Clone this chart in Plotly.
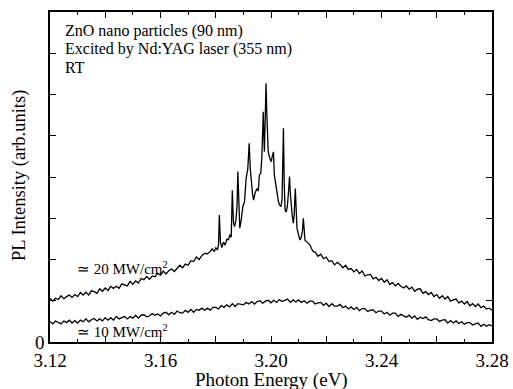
import numpy as np
import plotly.graph_objects as go

# ---------------- data ----------------
# 10 MW/cm^2 spectrum, energies 3.120 ... 3.280 eV, step 1 meV
energy_low = np.round(np.linspace(3.120, 3.280, 161), 4)
pl_low = [
    .50, .44, .51, .47, .44, .51, .47, .53, .46, .52,
    .46, .53, .49, .56, .49, .54, .57, .51, .56, .51,
    .59, .53, .59, .53, .62, .56, .60, .62, .56, .62,
    .58, .65, .58, .65, .66, .61, .63, .69, .65, .68,
    .63, .70, .72, .66, .72, .67, .75, .71, .70, .77,
    .72, .79, .72, .79, .77, .82, .77, .82, .77, .84,
    .84, .80, .88, .84, .90, .85, .93, .86, .93, .91,
    .90, .96, .92, .98, .92, .98, 1.00, .94, .99, 1.01,
    .95, 1.01, .96, 1.03, .98, 1.01, 1.04, .96, 1.02, .97,
    1.02, .96, 1.00, .94, .99, .99, .92, .95, .96, .89,
    .94, .86, .93, .87, .87, .91, .83, .87, .80, .85,
    .79, .84, .76, .81, .81, .74, .77, .78, .71, .75,
    .75, .68, .72, .65, .70, .70, .62, .67, .63, .60,
    .65, .58, .63, .55, .60, .57, .61, .54, .52, .56,
    .56, .50, .53, .54, .46, .52, .46, .51, .45, .49,
    .43, .47, .47, .41, .44, .46, .38, .43, .38, .42,
    .39,
]

# 20 MW/cm^2 spectrum: low-energy wing (3.120 ... 3.177 eV, 1 meV step)
energy_high_left = np.round(np.linspace(3.120, 3.177, 58), 4)
pl_high_left = [
    1.06, 0.99, 1.06, 1.03, 1.12, 1.05, 1.10, 1.14, 1.08, 1.15,
    1.10, 1.20, 1.14, 1.21, 1.14, 1.24, 1.22, 1.18, 1.29, 1.23,
    1.31, 1.25, 1.35, 1.30, 1.35, 1.30, 1.41, 1.38, 1.36, 1.47,
    1.40, 1.48, 1.43, 1.54, 1.51, 1.59, 1.52, 1.60, 1.58, 1.67,
    1.62, 1.72, 1.65, 1.73, 1.77, 1.71, 1.80, 1.86, 1.80, 1.89,
    1.86, 1.97, 1.95, 2.06, 2.00, 2.10, 2.15, 2.14,
]

# 20 MW/cm^2 spectrum: stimulated-emission spikes region
energy_high_mid = [
    3.1780, 3.1787, 3.1795, 3.1800, 3.1806, 3.1810, 3.1813, 3.1817, 3.1822, 3.1828,
    3.1834, 3.1840, 3.1846, 3.1852, 3.1856, 3.1860, 3.1864, 3.1868, 3.1873, 3.1877,
    3.1880, 3.1884, 3.1887, 3.1892, 3.1898, 3.1904, 3.1910, 3.1916, 3.1921, 3.1925,
    3.1928, 3.1933, 3.1937, 3.1942, 3.1949, 3.1954, 3.1958, 3.1963, 3.1967, 3.1969,
    3.1972, 3.1974, 3.1976, 3.1979, 3.1982, 3.1985, 3.1990, 3.1996, 3.2001, 3.2005,
    3.2009, 3.2012, 3.2016, 3.2021, 3.2027, 3.2031, 3.2036, 3.2040, 3.2045, 3.2048,
    3.2051, 3.2055, 3.2059, 3.2063, 3.2067, 3.2070, 3.2073, 3.2077, 3.2081, 3.2084,
    3.2088, 3.2091, 3.2094, 3.2099, 3.2105, 3.2110, 3.2114, 3.2117, 3.2120, 3.2123,
    3.2128, 3.2134, 3.2141, 3.2147, 3.2153,
]
pl_high_mid = [
    2.19, 2.26, 2.19, 2.29, 2.23, 2.35, 3.08, 2.42, 2.29, 2.42,
    2.35, 2.49, 2.48, 2.61, 2.54, 3.68, 2.90, 2.80, 2.95, 3.30,
    4.13, 3.00, 2.76, 2.95, 3.28, 3.40, 3.97, 4.20, 4.82, 4.20,
    3.89, 3.60, 3.44, 3.60, 3.72, 3.66, 4.05, 4.09, 4.50, 5.18,
    5.58, 5.00, 4.61, 5.40, 6.27, 5.50, 4.61, 4.45, 4.37, 4.52,
    4.61, 4.05, 3.85, 3.68, 3.40, 3.32, 3.28, 3.45, 5.18, 3.80,
    3.20, 3.15, 3.28, 3.60, 4.01, 3.60, 3.24, 3.05, 2.88, 3.10,
    3.72, 3.20, 2.76, 2.62, 2.47, 2.55, 2.70, 3.00, 2.60, 2.47,
    2.44, 2.40, 2.35, 2.26, 2.19,
]

# 20 MW/cm^2 spectrum: high-energy wing (3.216 ... 3.280 eV, 1 meV step)
energy_high_right = np.round(np.linspace(3.216, 3.280, 65), 4)
pl_high_right = [
    2.18, 2.08, 2.13, 2.02,
    2.06, 1.95, 1.97, 1.87, 1.93, 1.88, 1.80, 1.86, 1.76, 1.78,
    1.70, 1.76, 1.66, 1.72, 1.60, 1.63, 1.64, 1.53, 1.57, 1.49,
    1.54, 1.45, 1.51, 1.40, 1.44, 1.36, 1.42, 1.35, 1.31, 1.36,
    1.28, 1.33, 1.23, 1.28, 1.29, 1.18, 1.22, 1.15, 1.20, 1.10,
    1.15, 1.06, 1.12, 1.04, 1.10, 0.99, 1.02, 1.04, 0.95, 0.99,
    0.92, 0.98, 0.88, 0.93, 0.86, 0.92, 0.83, 0.87, 0.80, 0.82,
    0.77,
]

energy_high = list(energy_high_left) + energy_high_mid + list(energy_high_right)
pl_high = pl_high_left + pl_high_mid + pl_high_right

x_tick_vals = [3.12, 3.14, 3.16, 3.18, 3.20, 3.22, 3.24, 3.26, 3.28]
x_tick_text = ["3.12", "", "3.16", "", "3.20", "", "3.24", "", "3.28"]
y_tick_vals = [0, 1, 2, 3, 4, 5, 6, 7, 8]
y_tick_text = ["0", "", "", "", "", "", "", "", ""]

x_title = "Photon Energy (eV)"
y_title = "PL Intensity (arb.units)"
info_lines = ["ZnO nano particles (90 nm)", "Excited by Nd:YAG laser (355 nm)", "RT"]
label_high = "\u2243 20 MW/cm<sup>2</sup>"
label_low = "\u2243 10 MW/cm<sup>2</sup>"

# ---------------- figure ----------------
FONT = "Liberation Serif"
fig = go.Figure()
fig.add_trace(go.Scatter(x=energy_high, y=pl_high, mode="lines",
                         line=dict(color="black", width=1.3), showlegend=False))
fig.add_trace(go.Scatter(x=list(energy_low), y=pl_low, mode="lines",
                         line=dict(color="black", width=1.3), showlegend=False))

fig.update_layout(
    width=513, height=389,
    margin=dict(l=50, r=21, t=12, b=47),
    paper_bgcolor="white", plot_bgcolor="white",
    font=dict(family=FONT, color="black"),
    xaxis=dict(
        range=[3.12, 3.28], showgrid=False, zeroline=False, automargin=False,
        showline=True, linecolor="black", linewidth=1.5, mirror="ticks",
        ticks="inside", ticklen=6, tickwidth=1.3, tickcolor="black",
        tickvals=x_tick_vals, ticktext=x_tick_text,
        tickfont=dict(size=19, family=FONT, color="black"),
        minor=dict(ticks="inside", ticklen=3, tickwidth=1, dtick=0.01,
                   tick0=3.12, tickcolor="black", showgrid=False),
    ),
    yaxis=dict(
        range=[0, 8], showgrid=False, zeroline=False, automargin=False,
        showline=True, linecolor="black", linewidth=1.5, mirror="ticks",
        ticks="inside", ticklen=6, tickwidth=1.3, tickcolor="black",
        tickvals=y_tick_vals, ticktext=y_tick_text,
        tickfont=dict(size=19, family=FONT, color="black"),
    ),
)

# axis titles
fig.add_annotation(text=x_title, xref="paper", yref="paper", x=0.5, y=-0.115,
                   xanchor="center", yanchor="middle", showarrow=False,
                   font=dict(size=19, family=FONT, color="black"))
fig.add_annotation(text=y_title, xref="paper", yref="paper", x=-0.070, y=0.503,
                   xanchor="center", yanchor="middle", textangle=-90, showarrow=False,
                   font=dict(size=18.5, family=FONT, color="black"))

for i, line in enumerate(info_lines):
    fig.add_annotation(text=line, xref="paper", yref="paper",
                       x=0.029, y=0.942 - i * 0.055, xanchor="left", yanchor="middle",
                       showarrow=False, font=dict(size=16, family=FONT, color="black"))

fig.add_annotation(text=label_high, xref="x", yref="y", x=3.129, y=1.80,
                   xanchor="left", yanchor="middle", showarrow=False,
                   font=dict(size=15, family=FONT, color="black"))
fig.add_annotation(text=label_low, xref="x", yref="y", x=3.129, y=0.27,
                   xanchor="left", yanchor="middle", showarrow=False,
                   font=dict(size=15, family=FONT, color="black"))

# warm up the serif face, then redraw so every text uses it
font_fix = """
var gd = document.getElementById('{plot_id}');
var st = document.createElement('style');
st.textContent = 'svg text { font-family: "Liberation Serif", serif !important; }';
document.head.appendChild(st);
var warm = document.createElement('div');
warm.style.cssText = 'position:absolute;left:-9999px;top:0;font-family:"Liberation Serif";font-size:16px';
warm.textContent = 'Photon Energy 0123456789';
document.body.appendChild(warm);
function redo() { try { Plotly.redraw(gd); } catch (e) {} }
if (document.fonts && document.fonts.load) {
  document.fonts.load('16px "Liberation Serif"').then(function () { return document.fonts.ready; }).then(redo);
}
setTimeout(redo, 50);
"""

fig.write_html("out.html", post_script=font_fix)
